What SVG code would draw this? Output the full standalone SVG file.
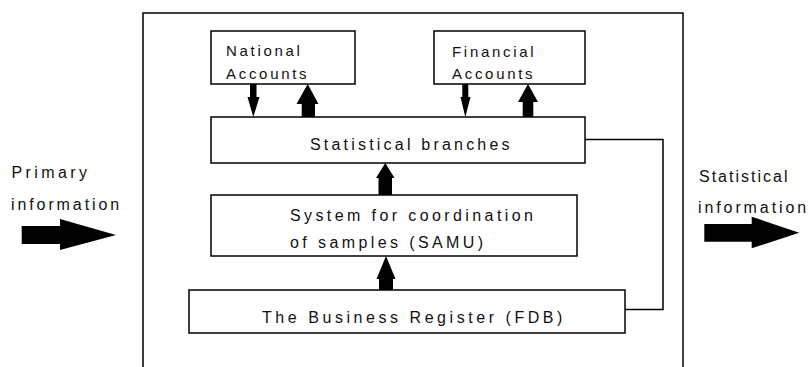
<svg xmlns="http://www.w3.org/2000/svg" width="810" height="367" viewBox="0 0 810 367">
  <style>
    .box { fill: #ffffff; stroke: #000000; stroke-width: 1.5; }
    .frame { fill: none; stroke: #000000; stroke-width: 1.5; }
    .line { fill: none; stroke: #000000; stroke-width: 1.5; }
    .arr { fill: #000000; stroke: none; }
    text { font-family: "Liberation Sans", Arial, sans-serif; fill: #111111; }
    .t14 { font-size: 15px; letter-spacing: 2.7px; }
    .t16 { font-size: 16px; }
  </style>
  <rect id="frame" class="frame" x="143" y="13" width="540" height="400"/>

  <g id="national-accounts">
    <rect class="box" x="211" y="31" width="144" height="53"/>
    <text class="t14" x="226" y="56">National</text>
    <text class="t14" x="226" y="79">Accounts</text>
  </g>
  <g id="financial-accounts">
    <rect class="box" x="434" y="31" width="151" height="53"/>
    <text class="t14" x="452" y="57">Financial</text>
    <text class="t14" x="452" y="79">Accounts</text>
  </g>
  <g id="statistical-branches">
    <rect class="box" x="211" y="117" width="374" height="46"/>
    <text class="t16" x="310" y="150" style="letter-spacing:3.2px">Statistical branches</text>
  </g>
  <g id="samu">
    <rect class="box" x="211" y="195" width="366" height="61"/>
    <text class="t16" x="290" y="221" style="letter-spacing:3.4px">System for coordination</text>
    <text class="t16" x="290" y="248" style="letter-spacing:3.4px">of samples (SAMU)</text>
  </g>
  <g id="business-register">
    <rect class="box" x="189" y="290" width="436" height="43"/>
    <text class="t16" x="262" y="322.5" style="letter-spacing:3.55px">The Business Register (FDB)</text>
  </g>
  <g id="primary-information">
    <text class="t16" x="11.5" y="178" style="letter-spacing:3.4px">Primary</text>
    <text class="t16" x="11" y="210" style="letter-spacing:2.9px">information</text>
  </g>
  <g id="statistical-information">
    <text class="t16" x="699" y="182" style="letter-spacing:2.0px">Statistical</text>
    <text class="t16" x="698" y="213" style="letter-spacing:2.9px">information</text>
  </g>

  <g id="connectors">
    <!-- National Accounts down / up -->
    <polygon class="arr" points="250,84 256.5,84 256.5,97 259.5,97 253.3,117 247.5,97 250,97"/>
    <polygon class="arr" points="301.7,117 315,117 315,104 318.5,104 307.7,84 296.5,104 301.7,104"/>
    <!-- Financial Accounts down / up -->
    <polygon class="arr" points="462.3,84 468.3,84 468.3,97 470.5,97 465.3,117 460.5,97 462.3,97"/>
    <polygon class="arr" points="522.7,117 533.3,117 533.3,102 538,102 528,84 518,102 522.7,102"/>
    <!-- SAMU up to Statistical branches -->
    <polygon class="arr" points="378.5,195 392,195 392,178 394.5,178 385.3,163 376,178 378.5,178"/>
    <!-- Business Register up to SAMU -->
    <polygon class="arr" points="379,290 393,290 393,279 395.5,279 386,256 376.5,279 379,279"/>
    <!-- feedback line -->
    <polyline class="line" points="585,139.5 663,139.5 663,309.5 625,309.5"/>
    <!-- input / output arrows -->
    <polygon class="arr" points="21.7,226 60,226 60,219 116,235 60,250 60,244 21.7,244"/>
    <polygon class="arr" points="704.3,224 751.7,224 751.7,216.7 799.3,232.7 751.7,248.3 751.7,241.7 704.3,241.7"/>
  </g>
</svg>
